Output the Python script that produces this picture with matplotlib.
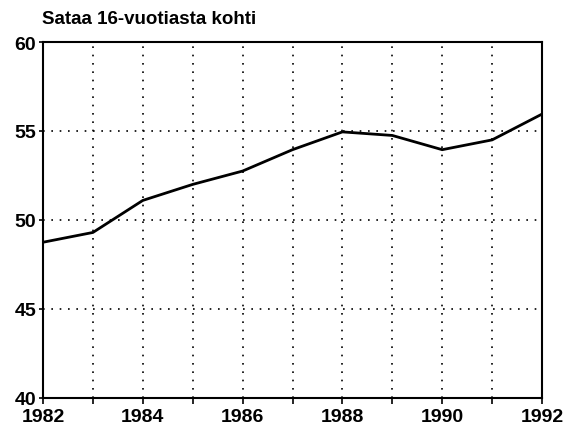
import matplotlib
matplotlib.use("Agg")
import matplotlib.pyplot as plt

years = [1982, 1983, 1984, 1985, 1986, 1987, 1988, 1989, 1990, 1991, 1992]
values = [48.75, 49.3, 51.1, 52.0, 52.75, 53.95, 54.95, 54.75, 53.95, 54.5, 55.95]
xtick_labels = [1982, 1984, 1986, 1988, 1990, 1992]
ytick_labels = [40, 45, 50, 55, 60]
title = "Sataa 16-vuotiasta kohti"

plt.rcParams['font.family'] = ['Liberation Sans', 'DejaVu Sans']

fig = plt.figure(figsize=(5.75, 4.31), dpi=100)
ax = fig.add_axes([43/575, 1 - 399/431, (542-43)/575, (399-43)/431])

ax.plot(years, values, color='black', linewidth=2.0)
ax.set_xlim(1982, 1992)
ax.set_ylim(40, 60)
ax.set_xticks(years)
ax.set_xticklabels([str(y) if y in xtick_labels else '' for y in years])
ax.set_yticks(ytick_labels)
ax.set_yticklabels([str(v) for v in ytick_labels])
ax.grid(True, linestyle=(0, (1, 4)), color='black', linewidth=1.2)
ax.tick_params(axis='x', direction='out', length=4, width=1.2, labelsize=14, pad=3.5)
ax.tick_params(axis='y', direction='out', length=3, width=1.2, labelsize=14, pad=2)
for lab in ax.get_xticklabels() + ax.get_yticklabels():
    lab.set_fontweight('bold')
for s in ax.spines.values():
    s.set_linewidth(1.5)

fig.text(42/575, 1 - 20/431, title, fontsize=13.5, fontweight='bold', va='center', ha='left')

fig.savefig("out.png", dpi=100)
